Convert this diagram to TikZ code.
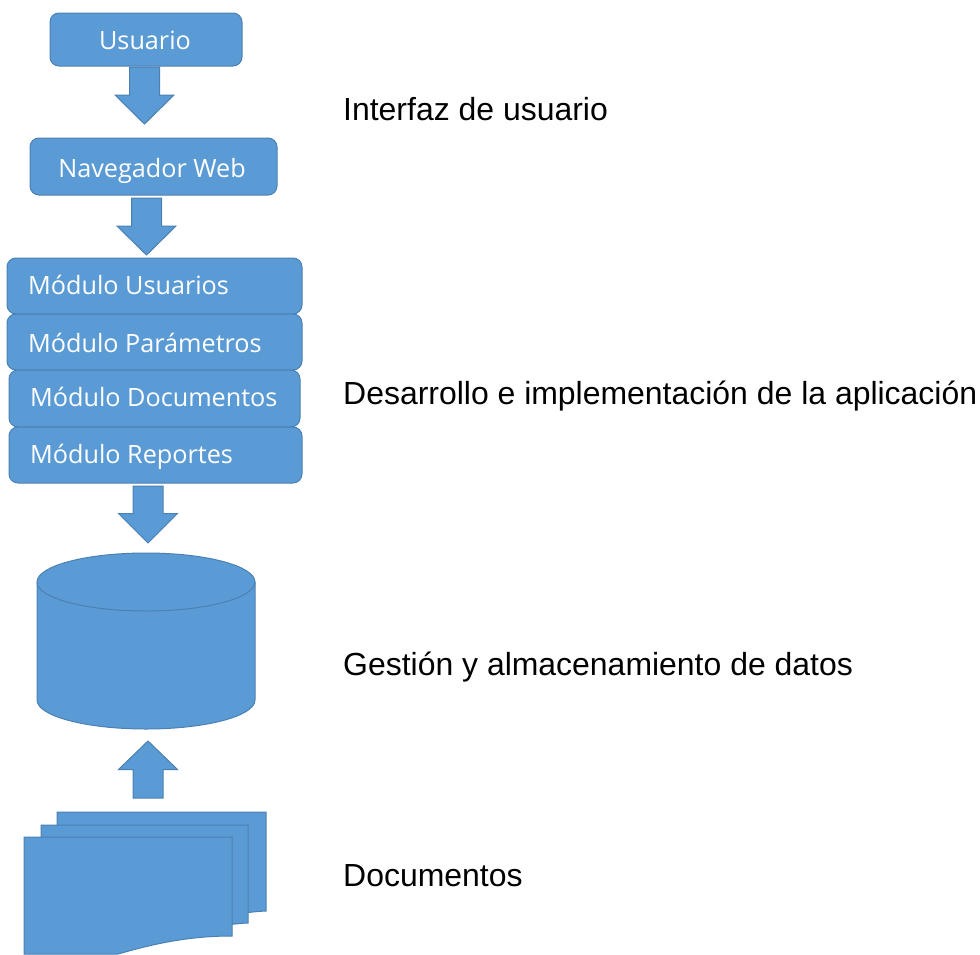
\documentclass[tikz,border=0pt]{standalone}
\usepackage{fontspec}
\setmainfont{Liberation Sans}
\newfontfamily\boxfont{Open Sans}
\definecolor{fillblue}{HTML}{5B9BD5}
\definecolor{edgeblue}{HTML}{4A80B2}
\tikzset{
  shapeblue/.style={fill=fillblue,draw=edgeblue,line width=1pt,line join=miter},
  roundbox/.style={shapeblue,rounded corners=9pt},
  boxtext/.style={inner sep=0pt,text=white,font=\boxfont\fontsize{25.2}{30}\selectfont},
  caption/.style={inner sep=0pt,anchor=base west,font=\fontsize{31.95}{38}\selectfont,text=black}
}
% block arrow: \blockarrow{centre x}{start y}{head base y}{tip y}
\newcommand{\blockarrow}[4]{%
  \draw[shapeblue] (#1-15,#2) -- (#1+15,#2) -- (#1+15,#3) -- (#1+29.5,#3) -- (#1,#4) -- (#1-29.5,#3) -- (#1-15,#3) -- cycle;}
\begin{document}
\begin{tikzpicture}[x=1pt,y=-1pt]
\useasboundingbox (0,0) rectangle (980,954);
% top boxes
\path[roundbox] (50,13) rectangle (242,66);
\node[boxtext,anchor=base] (usuario) at (145,49) {Usuario};
\path[roundbox] (30,138) rectangle (277,195);
\node[boxtext,anchor=base] (nav) at (152,177) {Navegador Web};
\blockarrow{144.5}{67}{95}{124}
\blockarrow{146.5}{198}{226}{255}
% modules
\path[roundbox] (7,258) rectangle (302,314);
\path[roundbox] (7,314) rectangle (302,370);
\path[roundbox] (9,370) rectangle (300,427);
\path[roundbox] (9,427) rectangle (302,483);
\node[boxtext,anchor=base west] (m1) at (28,294) {Módulo Usuarios};
\node[boxtext,anchor=base west] (m2) at (28,352) {Módulo Parámetros};
\node[boxtext,anchor=base west] (m3) at (30,406) {Módulo Documentos};
\node[boxtext,anchor=base west] (m4) at (30,463) {Módulo Reportes};
\blockarrow{148}{486}{513.5}{543}
% cylinder
\draw[shapeblue] (37,582) -- (37,700) arc[start angle=180,end angle=360,x radius=109,y radius=-29] -- (255,582);
\draw[shapeblue] (37,582) arc[start angle=180,end angle=-180,x radius=109,y radius=29];
\blockarrow{148}{798}{769.5}{741}
% documents
\draw[shapeblue] (57,812) -- (266,812) -- (266,911) .. controls (225,913) and (190,925) .. (150,936) -- (57,936) -- cycle;
\draw[shapeblue] (41,825) -- (248,825) -- (248,923) .. controls (210,925) and (175,935) .. (140,945) -- (41,945) -- cycle;
\draw[shapeblue] (24,837) -- (232,837) -- (232,936) .. controls (185,936) and (150,945) .. (118,954) -- (24,954) -- cycle;
% captions
\node[caption] (c1) at (343,120) {Interfaz de usuario};
\node[caption] (c2) at (343,404) {Desarrollo e implementación de la aplicación};
\node[caption] (c3) at (343,675) {Gestión y almacenamiento de datos};
\node[caption] (c4) at (343,886) {Documentos};
\end{tikzpicture}
\end{document}
